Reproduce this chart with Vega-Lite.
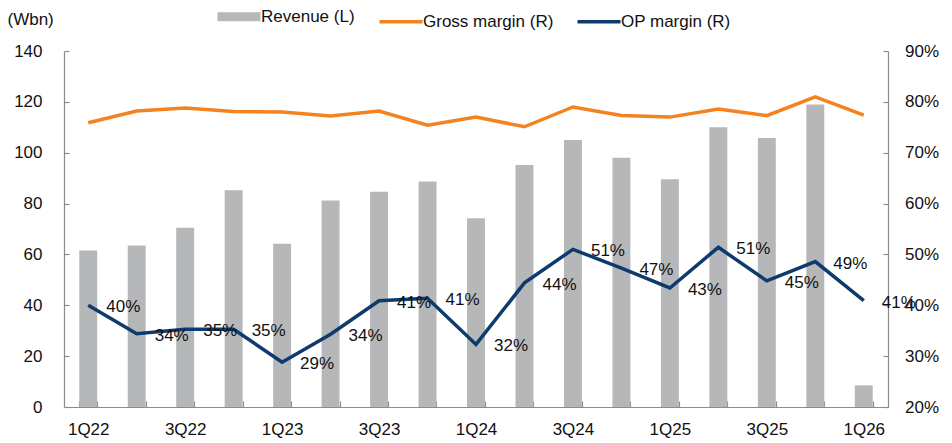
{
  "$schema": "https://vega.github.io/schema/vega-lite/v6.json",
  "width": 824,
  "height": 356,
  "autosize": {"type": "none"},
  "padding": {"left": 64, "top": 51, "right": 64, "bottom": 36},
  "background": "white",
  "config": {
    "view": {"stroke": null},
    "font": "Liberation Sans, Arial, sans-serif",
    "axis": {
      "grid": false,
      "domainColor": "#8c8c8c",
      "tickColor": "#8c8c8c",
      "domainWidth": 1.2,
      "tickWidth": 1.2,
      "labelColor": "#111111",
      "labelFontSize": 17,
      "labelFont": "Liberation Sans, Arial, sans-serif"
    },
    "legend": {
      "labelFont": "Liberation Sans, Arial, sans-serif"
    }
  },
  "data": {
    "values": [
      {"q": "1Q22", "rev": 61.5, "gm": 0.759, "op": 0.400},
      {"q": "2Q22", "rev": 63.5, "gm": 0.782, "op": 0.344},
      {"q": "3Q22", "rev": 70.5, "gm": 0.788, "op": 0.353},
      {"q": "4Q22", "rev": 85.2, "gm": 0.781, "op": 0.353},
      {"q": "1Q23", "rev": 64.2, "gm": 0.780, "op": 0.288},
      {"q": "2Q23", "rev": 81.2, "gm": 0.772, "op": 0.343},
      {"q": "3Q23", "rev": 84.6, "gm": 0.782, "op": 0.409},
      {"q": "4Q23", "rev": 88.7, "gm": 0.754, "op": 0.414},
      {"q": "1Q24", "rev": 74.2, "gm": 0.770, "op": 0.323},
      {"q": "2Q24", "rev": 95.2, "gm": 0.751, "op": 0.444},
      {"q": "3Q24", "rev": 105.0, "gm": 0.790, "op": 0.510},
      {"q": "4Q24", "rev": 98.0, "gm": 0.773, "op": 0.473},
      {"q": "1Q25", "rev": 89.6, "gm": 0.770, "op": 0.434},
      {"q": "2Q25", "rev": 110.0, "gm": 0.786, "op": 0.514},
      {"q": "3Q25", "rev": 105.8, "gm": 0.773, "op": 0.448},
      {"q": "4Q25", "rev": 119.0, "gm": 0.810, "op": 0.486},
      {"q": "1Q26", "rev": 8.5, "gm": 0.774, "op": 0.409}
    ]
  },
  "encoding": {
    "x": {
      "field": "q",
      "type": "ordinal",
      "sort": null,
      "scale": {"paddingInner": 0.63, "paddingOuter": 0.315},
      "axis": {
        "title": null,
        "labelAngle": 0,
        "tickBand": "extent",
        "tickSize": -6,
        "labelPadding": 20,
        "labelExpr": "test(/^[13]Q/, datum.value) ? datum.value : ''"
      }
    }
  },
  "layer": [
    {
      "mark": {"type": "bar", "color": "#b6b7b9"},
      "encoding": {
        "y": {
          "field": "rev",
          "type": "quantitative",
          "scale": {"domain": [0, 140]},
          "axis": {
            "orient": "left",
            "values": [0, 20, 40, 60, 80, 100, 120, 140],
            "tickSize": -5,
            "labelPadding": 27,
            "title": "(Wbn)",
            "titleAngle": 0,
            "titleAlign": "left",
            "titleBaseline": "middle",
            "titleX": -57,
            "titleY": -32,
            "titleFontSize": 17,
            "titleFontWeight": "normal",
            "titleColor": "#111111",
            "titleFont": "Liberation Sans, Arial, sans-serif"
          }
        },
        "color": {
          "datum": "Revenue (L)",
          "type": "nominal",
          "scale": {
            "domain": ["Revenue (L)", "Gross margin (R)", "OP margin (R)"],
            "range": ["#b6b7b9", "#f58220", "#0d3b6e"]
          },
          "legend": {
            "orient": "none",
            "legendX": 166.5,
            "legendY": -43,
            "direction": "horizontal",
            "title": null,
            "symbolType": "stroke",
            "symbolSize": 1849,
            "symbolStrokeWidth": 3.5,
            "labelFontSize": 17,
            "labelColor": "#111111",
            "labelOffset": 13.5,
            "columnPadding": 17,
            "encode": {
              "symbols": {
                "update": {
                  "strokeWidth": {"signal": "datum.label === 'Revenue (L)' ? 9 : 3.5"},
                  "stroke": {"scale": "color", "field": "value"},
                  "fill": {"value": "transparent"},
                  "opacity": {"value": 1}
                }
              }
            }
          }
        }
      }
    },
    {
      "layer": [
        {
          "mark": {"type": "line", "strokeWidth": 3.5},
          "encoding": {
            "y": {
              "field": "gm",
              "type": "quantitative",
              "scale": {"domain": [0.2, 0.9]},
              "axis": {
                "orient": "right",
                "title": null,
                "format": ".0%",
                "values": [0.2, 0.3, 0.4, 0.5, 0.6, 0.7, 0.8, 0.9],
                "tickSize": -5,
                "labelPadding": 21.5
              }
            },
            "color": {"datum": "Gross margin (R)", "type": "nominal"}
          }
        },
        {
          "mark": {"type": "line", "strokeWidth": 3.5},
          "encoding": {
            "y": {"field": "op", "type": "quantitative"},
            "color": {"datum": "OP margin (R)", "type": "nominal"}
          }
        },
        {
          "mark": {
            "type": "text",
            "align": "left",
            "baseline": "middle",
            "dx": 18,
            "dy": 2,
            "fontSize": 17,
            "color": "#111111"
          },
          "encoding": {
            "y": {"field": "op", "type": "quantitative"},
            "text": {"field": "op", "type": "quantitative", "format": ".0%"}
          }
        }
      ]
    }
  ],
  "resolve": {"scale": {"y": "independent"}, "axis": {"y": "independent"}}
}
